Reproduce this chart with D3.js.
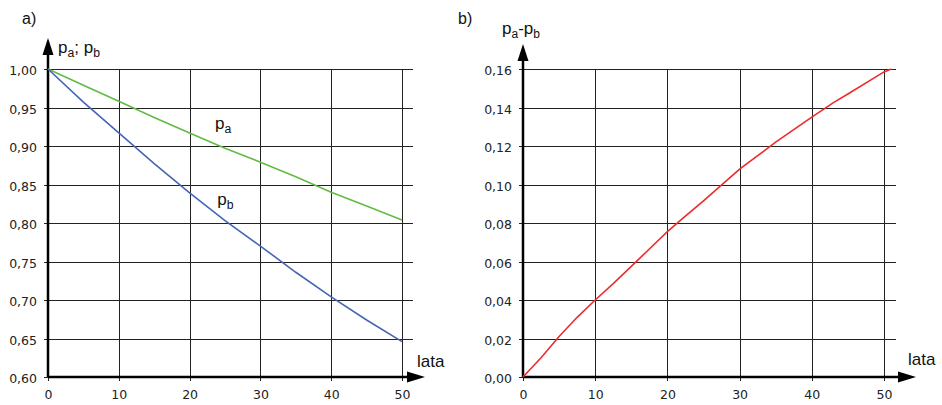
<!DOCTYPE html>
<html>
<head>
<meta charset="utf-8">
<script src="https://cdn.jsdelivr.net/npm/d3@7"></script>
<style>
  body { margin: 0; background: #fff; }
  svg { display: block; }
  .tick text { font-family: "DejaVu Sans", sans-serif; font-size: 12.5px; fill: #222; }
  .lbl { font-family: "Liberation Sans", Arial, sans-serif; fill: #111; }
</style>
</head>
<body>
<div id="wykres"></div>
<script>
// dane
const lata = [0, 5, 10, 15, 20, 25, 30, 35, 40, 45, 50];
const pa = [1.000, 0.979, 0.958, 0.937, 0.917, 0.897, 0.879, 0.860, 0.840, 0.822, 0.804];
const pb = [1.000, 0.957, 0.917, 0.877, 0.839, 0.803, 0.770, 0.736, 0.704, 0.674, 0.646];

const lataR = [0, 2.5, 5, 7.5, 10, 12.5, 15, 17.5, 20, 22, 25, 30, 35, 40, 43, 45, 50, 51];
const roznica = [0, 0.010, 0.021, 0.031, 0.040, 0.0485, 0.0575, 0.0665, 0.0755, 0.082, 0.0915, 0.108, 0.122, 0.135, 0.1425, 0.147, 0.1585, 0.160];

const xTicks = [0, 10, 20, 30, 40, 50];
const yTicksA = [0.60, 0.65, 0.70, 0.75, 0.80, 0.85, 0.90, 0.95, 1.00];
const yTicksB = [0, 0.02, 0.04, 0.06, 0.08, 0.10, 0.12, 0.14, 0.16];

// etykiety krzywych (wsp. danych)
const etykietaPa = [23.6, 0.922];
const etykietaPb = [23.9, 0.824];

const width = 942, height = 405;

const pl = d3.formatLocale({decimal: ",", thousands: " ", grouping: [3], currency: ["", " zł"]});
const fmt = pl.format(".2f");

const svg = d3.select("#wykres").append("svg")
    .attr("width", width)
    .attr("height", height);

// rysuje jeden panel z siatka, osiami i strzalkami
function panel(cfg) {
    const x = d3.scaleLinear().domain([0, 50]).range([cfg.x0, cfg.x1]);
    const y = d3.scaleLinear().domain(cfg.yDomain).range([377, 69]);
    const g = svg.append("g");

    // siatka pionowa
    g.append("g")
        .attr("transform", "translate(0,377)")
        .call(d3.axisBottom(x).tickValues(xTicks).tickSize(-(377 - 69)).tickPadding(12).tickFormat(d3.format("d")))
        .call(a => a.select(".domain").remove())
        .call(a => a.selectAll(".tick line").attr("stroke", "#222").attr("shape-rendering", "crispEdges").attr("y1", 4))
        .call(a => a.selectAll(".tick text").attr("dy", "0.71em").attr("y", 13));

    // siatka pozioma
    g.append("g")
        .attr("transform", "translate(" + cfg.x0 + ",0)")
        .call(d3.axisLeft(y).tickValues(cfg.yTicks).tickSize(-(cfg.gridEnd - cfg.x0)).tickPadding(11).tickFormat(fmt))
        .call(a => a.select(".domain").remove())
        .call(a => a.selectAll(".tick line").attr("stroke", "#222").attr("shape-rendering", "crispEdges").attr("x1", -4))
        .call(a => a.selectAll(".tick text").attr("dy", "0.45em"));

    // osie
    const ax = cfg.arrowX;
    g.append("line")
        .attr("x1", cfg.x0).attr("x2", ax + 2)
        .attr("y1", 377).attr("y2", 377)
        .attr("stroke", "#000").attr("stroke-width", 2.5);
    g.append("line")
        .attr("x1", cfg.x0).attr("x2", cfg.x0)
        .attr("y1", 377).attr("y2", cfg.arrowTop + 10)
        .attr("stroke", "#000").attr("stroke-width", 2.5);

    // strzalki
    g.append("path")
        .attr("d", "M" + ax + ",371.5L" + (ax + 18) + ",377L" + ax + ",382.5Z")
        .attr("fill", "#000");
    g.append("path")
        .attr("d", "M" + (cfg.x0 - 5.5) + "," + (cfg.arrowTop + 17) + "L" + cfg.x0 + "," + cfg.arrowTop + "L" + (cfg.x0 + 5.5) + "," + (cfg.arrowTop + 17) + "Z")
        .attr("fill", "#000");

    // opis osi x
    g.append("text").attr("class", "lbl")
        .attr("x", ax + 10).attr("y", cfg.lataY)
        .style("font-size", "17px")
        .text("lata");

    // litera panelu
    g.append("text").attr("class", "lbl")
        .attr("x", cfg.letterX).attr("y", 24)
        .style("font-size", "16px")
        .text(cfg.letter);

    return {x, y, g};
}

function subText(g, px, py, main, sub, size) {
    const t = g.append("text").attr("class", "lbl")
        .attr("x", px).attr("y", py)
        .style("font-size", size + "px");
    main.forEach((m, i) => {
        t.append("tspan").text(m).attr("dy", i === 0 ? 0 : -4);
        if (sub[i]) t.append("tspan").text(sub[i]).style("font-size", (size * 0.72) + "px").attr("dy", 4);
    });
    return t;
}

// panel a)
const A = panel({x0: 48, x1: 402, gridEnd: 413, arrowX: 407, lataY: 367, yDomain: [0.6, 1.0], yTicks: yTicksA, arrowTop: 38, letter: "a)", letterX: 22});

const linia = d3.line().x(d => A.x(d[0])).y(d => A.y(d[1]));
A.g.append("path")
    .datum(d3.zip(lata, pa))
    .attr("d", linia)
    .attr("fill", "none").attr("stroke", "#62bb44").attr("stroke-width", 1.6);
A.g.append("path")
    .datum(d3.zip(lata, pb))
    .attr("d", linia)
    .attr("fill", "none").attr("stroke", "#4565b5").attr("stroke-width", 1.6);

subText(A.g, 58, 53, ["p", "; p"], ["a", "b"], 17);
subText(A.g, A.x(etykietaPa[0]), A.y(etykietaPa[1]), ["p"], ["a"], 17);
subText(A.g, A.x(etykietaPb[0]), A.y(etykietaPb[1]), ["p"], ["b"], 17);

// panel b)
const B = panel({x0: 523, x1: 884, gridEnd: 896, arrowX: 898, lataY: 365, yDomain: [0, 0.16], yTicks: yTicksB, arrowTop: 44, letter: "b)", letterX: 458});

const liniaB = d3.line().x(d => B.x(d[0])).y(d => B.y(d[1]));
B.g.append("path")
    .datum(d3.zip(lataR, roznica))
    .attr("d", liniaB)
    .attr("fill", "none").attr("stroke", "#ee2b2b").attr("stroke-width", 1.6);

const lb = B.g.append("text").attr("class", "lbl")
    .attr("x", 502).attr("y", 34)
    .style("font-size", "17px");
lb.append("tspan").text("p");
lb.append("tspan").text("a").style("font-size", "12px").attr("dy", 4);
lb.append("tspan").text("-p").attr("dy", -4);
lb.append("tspan").text("b").style("font-size", "12px").attr("dy", 4);
</script>
</body>
</html>
